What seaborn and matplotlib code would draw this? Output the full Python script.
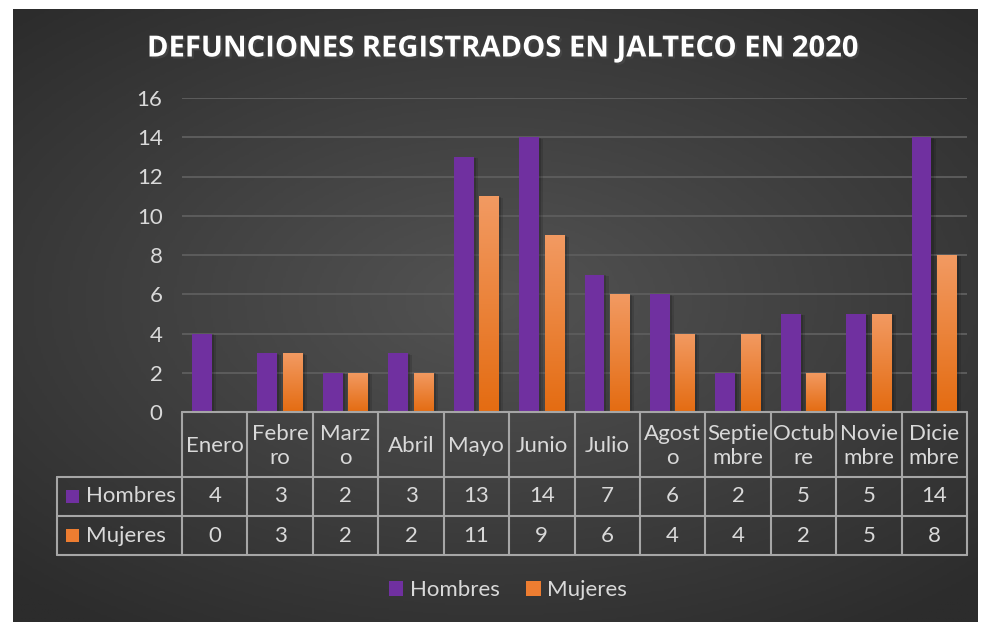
import numpy as np
import matplotlib
matplotlib.use("Agg")
import matplotlib.pyplot as plt
import matplotlib.patheffects as pe
from matplotlib.lines import Line2D
from matplotlib.patches import Patch, Rectangle
from matplotlib.colors import LinearSegmentedColormap
import pandas as pd
import seaborn as sns

# data
months = ["Enero", "Febrero", "Marzo", "Abril", "Mayo", "Junio", "Julio",
          "Agosto", "Septiembre", "Octubre", "Noviembre", "Diciembre"]
month_labels = ["Enero", "Febre\nro", "Marz\no", "Abril", "Mayo", "Junio", "Julio",
                "Agost\no", "Septie\nmbre", "Octub\nre", "Novie\nmbre", "Dicie\nmbre"]
hombres = [4, 3, 2, 3, 13, 14, 7, 6, 2, 5, 5, 14]
mujeres = [0, 3, 2, 2, 11, 9, 6, 4, 4, 2, 5, 8]
series = ["Hombres", "Mujeres"]
yticks = [0, 2, 4, 6, 8, 10, 12, 14, 16]

colors = {"Hombres": "#7030A0", "Mujeres": "#ED7D31"}
text_col = "#D9D9D9"
line_col = "#A6A6A6"

df = pd.DataFrame({
    "mes": months * 2,
    "serie": ["Hombres"] * len(months) + ["Mujeres"] * len(months),
    "valor": hombres + mujeres,
})

sns.set_theme(style="dark")
plt.rcParams["font.family"] = ["Lato", "DejaVu Sans"]

W, H = 981, 624
fig = plt.figure(figsize=(W / 100, H / 100), dpi=100)
fig.patch.set_facecolor("white")


def fx(px):
    return px / W


def fy(py):
    return 1 - py / H


# dark radial background
bg = fig.add_axes([fx(13), fy(622), fx(978) - fx(13), fy(9) - fy(622)])
gx, gy = np.meshgrid(np.linspace(-1, 1, 400), np.linspace(-1, 1, 260))
r = np.clip(np.sqrt((gx * 0.9) ** 2 + ((gy + 0.05) * 1.0) ** 2), 0, 1.3)
bg_cmap = LinearSegmentedColormap.from_list("bg", ["#535353", "#2c2c2c"])
bg.imshow(r, cmap=bg_cmap, aspect="auto", extent=[0, 1, 0, 1], vmin=0, vmax=1.3)
bg.set_axis_off()

# main plot
ax = fig.add_axes([fx(182), fy(412), fx(967) - fx(182), fy(98) - fy(412)])
ax.set_facecolor("none")
sns.barplot(data=df, x="mes", y="valor", hue="serie", order=months, hue_order=series,
            palette=colors, width=0.78, gap=0.22, legend=False, ax=ax,
            saturation=1, linewidth=0, edgecolor="none", zorder=3)
ax.set_xlim(-0.5, len(months) - 0.5)
ax.set_ylim(0, 16)
ax.set_yticks(yticks)
ax.set_yticklabels([str(v) for v in yticks])
ax.tick_params(axis="y", colors=text_col, labelsize=16, length=0, pad=14)
ax.tick_params(axis="x", length=0, labelbottom=False)
ax.set_xlabel("")
ax.set_ylabel("")
ax.grid(axis="y", color="#5c5c5c", linewidth=1.4, zorder=0)
ax.grid(axis="x", visible=False)
for s in ax.spines.values():
    s.set_visible(False)

# soft shadows on bars, gradient on orange bars
grad_cmap = LinearSegmentedColormap.from_list("og", ["#E46C12", "#F29A62"])
grad = np.linspace(0, 1, 100).reshape(-1, 1)
for cont in ax.containers:
    for bar in cont:
        bar.set_path_effects([pe.SimplePatchShadow(offset=(3, -1), alpha=0.12, shadow_rgbFace="black"),
                              pe.SimplePatchShadow(offset=(1.5, -0.5), alpha=0.15, shadow_rgbFace="black"),
                              pe.Normal()])
for bar in ax.containers[1]:
    x0, w, h = bar.get_x(), bar.get_width(), bar.get_height()
    if h <= 0:
        continue
    im = ax.imshow(grad, cmap=grad_cmap, aspect="auto", origin="lower",
                   extent=[x0, x0 + w, 0, h], zorder=4)
    im.set_clip_path(bar)
ax.set_xlim(-0.5, len(months) - 0.5)
ax.set_ylim(0, 16)

# data table under the axis
to_fig = ax.transData + fig.transFigure.inverted()
col_edges = [to_fig.transform((i - 0.5, 0))[0] for i in range(len(months) + 1)]
col_mid = [to_fig.transform((i, 0))[0] for i in range(len(months))]
y_top, y_h, y_r1, y_r2 = fy(412), fy(477), fy(516), fy(555)
x_left = fx(57)

lines = [
    ((col_edges[0], col_edges[-1]), (y_top, y_top)),
    ((x_left, col_edges[-1]), (y_h, y_h)),
    ((x_left, col_edges[-1]), (y_r1, y_r1)),
    ((x_left, col_edges[-1]), (y_r2, y_r2)),
    ((x_left, x_left), (y_h, y_r2)),
]
for xe in col_edges:
    lines.append(((xe, xe), (y_top, y_r2)))
for xs, ys in lines:
    fig.add_artist(Line2D(xs, ys, color=line_col, linewidth=1.5, zorder=5))

for xm, lab in zip(col_mid, month_labels):
    fig.text(xm, fy(446), lab, ha="center", va="center", color=text_col,
             fontsize=16, linespacing=1.3)
row_ys = [(y_h + y_r1) / 2, (y_r1 + y_r2) / 2]
for ry, name, vals in zip(row_ys, series, [hombres, mujeres]):
    for xm, v in zip(col_mid, vals):
        fig.text(xm, ry, str(v), ha="center", va="center", color=text_col, fontsize=16)
    fig.add_artist(Rectangle((fx(66), ry - 6.5 / H), 13 / W, 13 / H,
                             facecolor=colors[name], edgecolor="none",
                             transform=fig.transFigure))
    fig.text(fx(86), ry, name, ha="left", va="center", color=text_col, fontsize=16)

# legend
handles = [Patch(facecolor=colors[s], edgecolor="none", label=s) for s in series]
fig.legend(handles=handles, loc="center", bbox_to_anchor=(fx(508), fy(590)), ncol=2,
           frameon=False, fontsize=16, labelcolor=text_col, handlelength=0.65,
           handleheight=0.65, handletextpad=0.3, columnspacing=1.2)

# title
fig.text(fx(503), fy(49), "DEFUNCIONES REGISTRADOS EN JALTECO EN 2020", ha="center",
         va="center", color="white", fontsize=21, fontweight="bold",
         family=["Open Sans", "DejaVu Sans"],
         path_effects=[pe.withSimplePatchShadow(offset=(1.5, -1.5), alpha=0.6)])

fig.savefig("out.png", dpi=100, facecolor=fig.get_facecolor())
